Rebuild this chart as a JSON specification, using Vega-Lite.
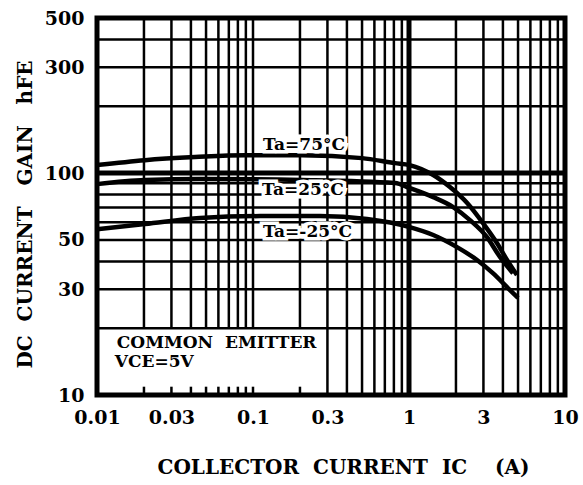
{
  "$schema": "https://vega.github.io/schema/vega-lite/v6.json",
  "width": 468,
  "height": 377,
  "autosize": {"type": "none"},
  "padding": {"left": 97, "top": 18, "right": 18, "bottom": 90},
  "background": "white",
  "config": {
    "view": {"stroke": "black", "strokeWidth": 5},
    "font": "DejaVu Serif"
  },
  "datasets": {
    "curves": [
      {"series": "Ta=75°C", "ic": 0.01, "hfe": 108.7},
      {"series": "Ta=75°C", "ic": 0.0203, "hfe": 114.4},
      {"series": "Ta=75°C", "ic": 0.0425, "hfe": 118.1},
      {"series": "Ta=75°C", "ic": 0.089, "hfe": 120.5},
      {"series": "Ta=75°C", "ic": 0.206, "hfe": 120.5},
      {"series": "Ta=75°C", "ic": 0.5, "hfe": 116.8},
      {"series": "Ta=75°C", "ic": 0.813, "hfe": 110.9},
      {"series": "Ta=75°C", "ic": 1.01, "hfe": 108.7},
      {"series": "Ta=75°C", "ic": 1.43, "hfe": 98.0},
      {"series": "Ta=75°C", "ic": 1.83, "hfe": 86.5},
      {"series": "Ta=75°C", "ic": 2.36, "hfe": 73.3},
      {"series": "Ta=75°C", "ic": 2.98, "hfe": 59.5},
      {"series": "Ta=75°C", "ic": 3.66, "hfe": 48.4},
      {"series": "Ta=75°C", "ic": 4.25, "hfe": 40.6},
      {"series": "Ta=75°C", "ic": 4.92, "hfe": 34.7},
      {"series": "Ta=25°C", "ic": 0.01, "hfe": 89.2},
      {"series": "Ta=25°C", "ic": 0.0203, "hfe": 93.0},
      {"series": "Ta=25°C", "ic": 0.0457, "hfe": 94.0},
      {"series": "Ta=25°C", "ic": 0.206, "hfe": 93.0},
      {"series": "Ta=25°C", "ic": 0.813, "hfe": 90.2},
      {"series": "Ta=25°C", "ic": 1.01, "hfe": 85.6},
      {"series": "Ta=25°C", "ic": 1.43, "hfe": 77.9},
      {"series": "Ta=25°C", "ic": 1.92, "hfe": 70.3},
      {"series": "Ta=25°C", "ic": 2.46, "hfe": 61.4},
      {"series": "Ta=25°C", "ic": 3.16, "hfe": 51.5},
      {"series": "Ta=25°C", "ic": 3.83, "hfe": 41.9},
      {"series": "Ta=25°C", "ic": 4.64, "hfe": 35.4},
      {"series": "Ta=-25°C", "ic": 0.01, "hfe": 55.9},
      {"series": "Ta=-25°C", "ic": 0.0203, "hfe": 58.9},
      {"series": "Ta=-25°C", "ic": 0.0457, "hfe": 62.7},
      {"series": "Ta=-25°C", "ic": 0.111, "hfe": 64.0},
      {"series": "Ta=-25°C", "ic": 0.269, "hfe": 64.0},
      {"series": "Ta=-25°C", "ic": 0.538, "hfe": 62.1},
      {"series": "Ta=-25°C", "ic": 1.01, "hfe": 57.1},
      {"series": "Ta=-25°C", "ic": 1.43, "hfe": 52.6},
      {"series": "Ta=-25°C", "ic": 2.03, "hfe": 46.4},
      {"series": "Ta=-25°C", "ic": 2.73, "hfe": 40.6},
      {"series": "Ta=-25°C", "ic": 3.45, "hfe": 35.4},
      {"series": "Ta=-25°C", "ic": 4.44, "hfe": 29.7},
      {"series": "Ta=-25°C", "ic": 5.0, "hfe": 27.4}
    ],
    "vfull": [
      {"ic": 0.3}, {"ic": 0.4}, {"ic": 0.5}, {"ic": 0.6}, {"ic": 0.7}, {"ic": 0.8}, {"ic": 0.9},
      {"ic": 2}, {"ic": 3}, {"ic": 4}, {"ic": 5}, {"ic": 6}, {"ic": 7}, {"ic": 8}, {"ic": 9}
    ],
    "vupper": [
      {"ic": 0.02}, {"ic": 0.03}, {"ic": 0.04}, {"ic": 0.05}, {"ic": 0.06}, {"ic": 0.07}, {"ic": 0.08}, {"ic": 0.09},
      {"ic": 0.1}, {"ic": 0.2}
    ],
    "hgrid": [
      {"hfe": 20}, {"hfe": 30}, {"hfe": 40}, {"hfe": 50}, {"hfe": 60}, {"hfe": 70}, {"hfe": 80}, {"hfe": 90},
      {"hfe": 200}, {"hfe": 300}, {"hfe": 400}
    ],
    "majorv": [{"ic": 1}],
    "majorh": [{"hfe": 100}],
    "labels": [
      {"label": "Ta=75°C", "ic": 0.116, "hfe": 133.6},
      {"label": "Ta=25°C", "ic": 0.114, "hfe": 83.8},
      {"label": "Ta=-25°C", "ic": 0.116, "hfe": 54.2},
      {"label": "COMMON\u00a0\u00a0EMITTER", "ic": 0.0134, "hfe": 17.15},
      {"label": "VCE=5V", "ic": 0.013, "hfe": 14.1}
    ]
  },
  "layer": [
    {
      "data": {"name": "hgrid"},
      "mark": {"type": "rule", "color": "black", "strokeWidth": 2.5},
      "encoding": {
        "y": {"field": "hfe", "type": "quantitative", "scale": {"type": "log", "domain": [10, 500], "nice": false}},
        "x": {"datum": 0.01, "type": "quantitative", "scale": {"type": "log", "domain": [0.01, 10], "nice": false}},
        "x2": {"datum": 10}
      }
    },
    {
      "data": {"name": "vfull"},
      "mark": {"type": "rule", "color": "black", "strokeWidth": 2.5},
      "encoding": {
        "x": {"field": "ic", "type": "quantitative"},
        "y": {"datum": 10, "type": "quantitative"},
        "y2": {"datum": 500}
      }
    },
    {
      "data": {"name": "vupper"},
      "mark": {"type": "rule", "color": "black", "strokeWidth": 2.5},
      "encoding": {
        "x": {"field": "ic", "type": "quantitative"},
        "y": {"datum": 20, "type": "quantitative"},
        "y2": {"datum": 500}
      }
    },
    {
      "data": {"name": "vupper"},
      "mark": {"type": "rule", "color": "black", "strokeWidth": 2.5},
      "encoding": {
        "x": {"field": "ic", "type": "quantitative"},
        "y": {"datum": 10, "type": "quantitative"},
        "y2": {"datum": 10.9}
      }
    },
    {
      "data": {"name": "majorv"},
      "mark": {"type": "rule", "color": "black", "strokeWidth": 5},
      "encoding": {
        "x": {"field": "ic", "type": "quantitative"},
        "y": {"datum": 10, "type": "quantitative"},
        "y2": {"datum": 500}
      }
    },
    {
      "data": {"name": "majorh"},
      "mark": {"type": "rule", "color": "black", "strokeWidth": 5},
      "encoding": {
        "y": {"field": "hfe", "type": "quantitative"},
        "x": {"datum": 0.01, "type": "quantitative"},
        "x2": {"datum": 10}
      }
    },
    {
      "data": {"name": "curves"},
      "mark": {"type": "line", "color": "black", "strokeWidth": 4.5, "interpolate": "monotone"},
      "encoding": {
        "detail": {"field": "series"},
        "x": {
          "field": "ic", "type": "quantitative",
          "axis": {
            "values": [0.01, 0.03, 0.1, 0.3, 1, 3, 10],
            "format": "~g",
            "grid": false, "ticks": false, "tickSize": 0, "domain": false,
            "labelFont": "DejaVu Serif", "labelFontWeight": "bold", "labelFontSize": 19, "labelColor": "black",
            "labelPadding": 13, "labelFlush": false, "labelOverlap": false, "labelBound": false,
            "title": "COLLECTOR\u00a0\u00a0CURRENT\u00a0\u00a0IC\u00a0\u00a0\u00a0\u00a0(A)",
            "titleFont": "DejaVu Serif", "titleFontWeight": "bold", "titleFontSize": 20, "titleColor": "black",
            "titleX": 246, "titleY": 72, "titleBaseline": "middle", "titleAlign": "center"
          }
        },
        "y": {
          "field": "hfe", "type": "quantitative",
          "axis": {
            "values": [10, 30, 50, 100, 300, 500],
            "format": "~g",
            "grid": false, "ticks": false, "tickSize": 0, "domain": false,
            "labelFont": "DejaVu Serif", "labelFontWeight": "bold", "labelFontSize": 19, "labelColor": "black",
            "labelPadding": 13, "labelFlush": false, "labelOverlap": false, "labelBound": false,
            "title": "DC\u00a0\u00a0CURRENT\u00a0\u00a0\u00a0GAIN\u00a0\u00a0\u00a0hFE",
            "titleFont": "DejaVu Serif", "titleFontWeight": "bold", "titleFontSize": 20, "titleColor": "black",
            "titleX": -72, "titleY": 196, "titleAngle": -90, "titleBaseline": "middle", "titleAlign": "center"
          }
        }
      }
    },
    {
      "data": {"name": "labels"},
      "mark": {"type": "text", "align": "left", "baseline": "middle", "font": "DejaVu Serif", "fontWeight": "bold", "fontSize": 17, "fill": "white", "stroke": "white", "strokeWidth": 7},
      "encoding": {
        "text": {"field": "label"},
        "x": {"field": "ic", "type": "quantitative"},
        "y": {"field": "hfe", "type": "quantitative"}
      }
    },
    {
      "data": {"name": "labels"},
      "mark": {"type": "text", "align": "left", "baseline": "middle", "font": "DejaVu Serif", "fontWeight": "bold", "fontSize": 17, "fill": "black"},
      "encoding": {
        "text": {"field": "label"},
        "x": {"field": "ic", "type": "quantitative"},
        "y": {"field": "hfe", "type": "quantitative"}
      }
    }
  ]
}
